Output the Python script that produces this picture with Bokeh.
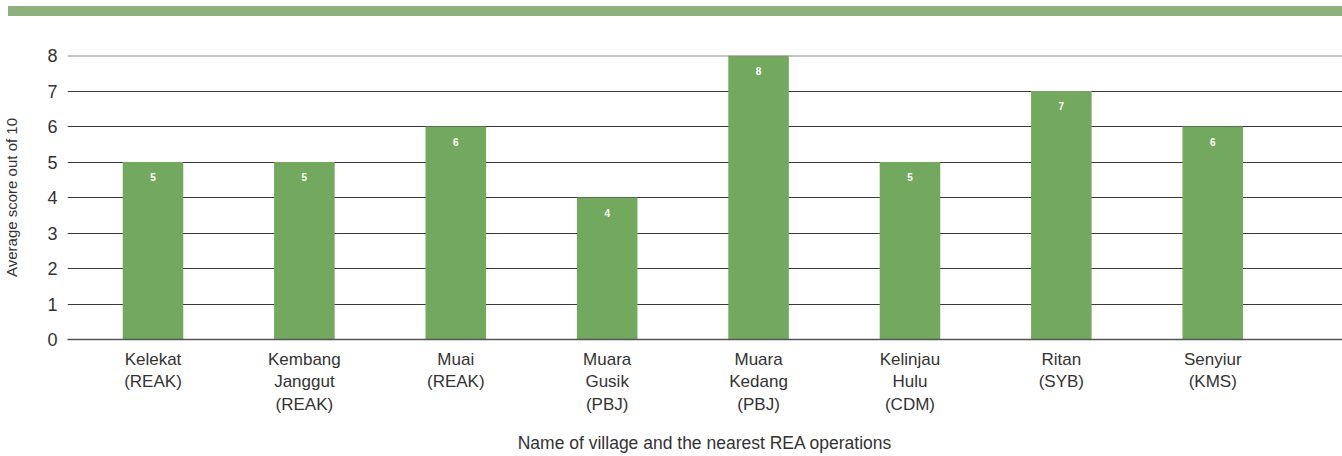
from bokeh.plotting import figure
from bokeh.models import ColumnDataSource, Span, Div, FixedTicker
from bokeh.layouts import column
from bokeh.core.properties import value
from bokeh.embed import file_html
from bokeh.resources import INLINE

villages = ["Kelekat\n(REAK)", "Kembang\nJanggut\n(REAK)", "Muai\n(REAK)", "Muara\nGusik\n(PBJ)",
            "Muara\nKedang\n(PBJ)", "Kelinjau\nHulu\n(CDM)", "Ritan\n(SYB)", "Senyiur\n(KMS)"]
scores = [5, 5, 6, 4, 8, 5, 7, 6]

FONT = "Liberation Sans"
TXT = "#333333"

xs = list(range(len(villages)))
src = ColumnDataSource(dict(x=xs, top=scores, lab=[str(s) for s in scores]))

p = figure(width=1342, height=440, output_backend="svg", toolbar_location=None,
           x_range=(-0.5647, 7.857), y_range=(0, 8),
           min_border_left=60, min_border_right=0, min_border_top=39, min_border_bottom=0,
           margin=(0, 0, 0, 0))
p.outline_line_color = None
p.background_fill_color = "white"

p.vbar(x="x", top="top", width=0.40, source=src, fill_color="#72a95e", line_color=None)
p.text(x="x", y="top", text="lab", source=src, text_color="white", text_font=value(FONT),
       text_font_size="10px", text_font_style="bold", text_align="center",
       text_baseline="middle", y_offset=15)

p.xgrid.grid_line_color = None
p.ygrid.grid_line_color = "#3a3a3a"
p.ygrid.grid_line_width = 1
p.ygrid.ticker = FixedTicker(ticks=list(range(0, 8)))
p.add_layout(Span(location=8, dimension="width", line_color="#8a8a8a", line_width=2))

p.xaxis.ticker = FixedTicker(ticks=xs)
p.xaxis.major_label_overrides = {i: v for i, v in enumerate(villages)}
p.yaxis.ticker = FixedTicker(ticks=list(range(0, 9)))

for ax in (p.xaxis, p.yaxis):
    ax.major_tick_line_color = None
    ax.minor_tick_line_color = None
    ax.major_label_text_font = FONT
    ax.major_label_text_color = TXT
    ax.axis_label_text_font = FONT
    ax.axis_label_text_color = TXT
    ax.axis_label_text_font_style = "normal"

p.yaxis.axis_line_color = None
p.xaxis.axis_line_color = "#555555"
p.xaxis.axis_line_width = 1.5
p.yaxis.major_label_text_font_size = "18px"
p.xaxis.major_label_text_font_size = "17px"
p.xaxis.major_label_standoff = 4
p.yaxis.major_label_standoff = 4
p.xaxis.axis_label = "Name of village and the nearest REA operations"
p.yaxis.axis_label = "Average score out of 10"
p.xaxis.axis_label_text_font_size = "17.5px"
p.yaxis.axis_label_text_font_size = "15px"
p.xaxis.axis_label_standoff = 16
p.yaxis.axis_label_standoff = 24

band = Div(text="", width=1334, height=10, margin=(6, 0, 0, 8),
           styles={"background-color": "#8fb07c"})

layout = column(band, p, spacing=0)
open("out.html", "w").write(file_html(layout, INLINE))
